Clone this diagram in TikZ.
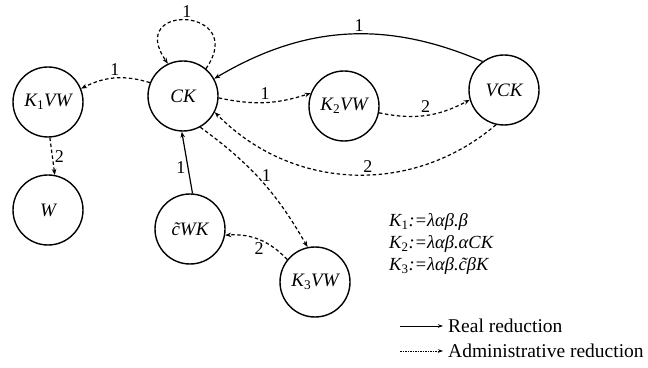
\documentclass[tikz,border=0pt]{standalone}
\usepackage{fontspec}
\setmainfont{Liberation Serif}
\usetikzlibrary{arrows.meta}
\newcommand{\idx}[1]{\textsubscript{\upshape#1}}

\begin{document}
\begin{tikzpicture}[x=1pt, y=1pt,
    term/.style={circle, draw, line width=1.4pt, minimum size=70pt, inner sep=0pt,
      font=\fontsize{19}{21}\selectfont\itshape},
    real/.style={line width=1.2pt, -{Stealth[length=6pt, width=4.5pt]}},
    admin/.style={real, dash pattern=on 3.5pt off 2.5pt},
    num/.style={font=\fontsize{18}{20}\selectfont, inner sep=2pt},
    legend/.style={font=\fontsize{19.5}{22}\selectfont, inner sep=0pt, anchor=west}]
    \useasboundingbox (0,0) rectangle (648,367);

    % Draw nodes for the terms
    \node[term] (CK) at (183, 271) {CK};
    \node[term] (K1VW) at (48, 265) {K\idx{1}VW};
    \node[term] (W) at (48, 157) {W};
    \node[term] (K2VW) at (344, 261) {K\idx{2}VW};
    \node[term] (VCK) at (504, 277) {VCK};
    \node[term] (cWK) at (190, 138) {\~{c}WK};
    \node[term] (K3VW) at (315, 85) {K\idx{3}VW};

    % Draw the reductions
    \draw[admin] (CK.50) .. controls +(55:75) and +(125:75) .. (CK.115)
        node[num, pos=0.5, above] {1};
    \draw[admin] (CK.158) to[bend right=22] node[num, above] {1} (K1VW.22);
    \draw[admin] (K1VW.273) -- node[num, right] {2} (W.79);
    \draw[admin] (CK.357) to[bend right=15] node[num, above] {1} (K2VW.159);
    \draw[admin] (K2VW.349) to[bend right=20] node[num, above] {2} (VCK.196);
    \draw[real] (VCK.127) to[bend right=27] node[num, pos=0.45, above] {1} (CK.29);
    \draw[admin] (VCK.257) to[bend left=43] node[num, pos=0.45, above] {2} (CK.333);
    \draw[admin] (CK.299) to[bend left=12] node[num, pos=0.45, right=3pt] {1} (K3VW.102);
    \draw[real] (cWK.86) -- node[num, pos=0.42, left] {1} (CK.268);
    \draw[admin] (K3VW.141) to[bend right=25] node[num, below] {2} (cWK.350);

    % Definitions of the continuations
    \node[legend, font=\fontsize{18.5}{20}\selectfont\itshape] (def1) at (389, 145) {K\idx{1}:=λαβ.β};
    \node[legend, font=\fontsize{18.5}{20}\selectfont\itshape] (def2) at (389, 123) {K\idx{2}:=λαβ.αCK};
    \node[legend, font=\fontsize{18.5}{20}\selectfont\itshape] (def3) at (389, 101) {K\idx{3}:=λαβ.\~{c}βK};

    % Legend
    \node[legend] (realtxt) at (448, 41) {Real reduction};
    \node[legend] (admintxt) at (448, 16) {Administrative reduction};
    \coordinate (realA) at (400, 41);
    \coordinate (adminA) at (400, 16);
    \draw[line width=0.8pt, -{Stealth[length=5pt, width=3.5pt]}, shorten >=5pt] (realA) -- (realtxt.west);
    \draw[line width=0.6pt, dash pattern=on 1.5pt off 1pt, -{Stealth[length=5pt, width=3.5pt]}, shorten >=5pt] (adminA) -- (admintxt.west);
\end{tikzpicture}
\end{document}
